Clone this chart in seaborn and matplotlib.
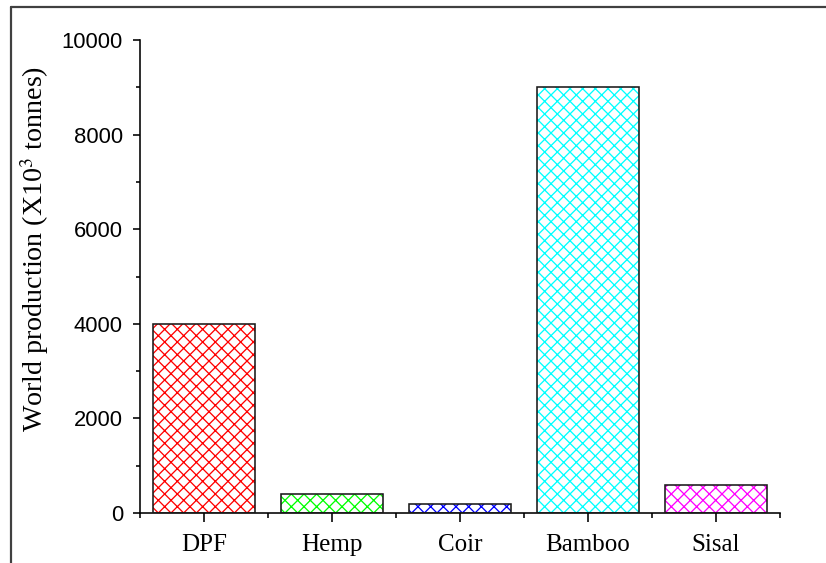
import numpy as np
import pandas as pd
import matplotlib
matplotlib.use("Agg")
import matplotlib.pyplot as plt
from matplotlib.patches import Rectangle
from matplotlib.lines import Line2D
from matplotlib.ticker import MultipleLocator, FixedLocator
import seaborn as sns

# Fibre world production data
fibres = ["DPF", "Hemp", "Coir", "Bamboo", "Sisal"]
production = [4000, 400, 200, 9000, 600]
colors = ["#FF0000", "#00FF00", "#0000FF", "#00FFFF", "#FF00FF"]
y_ticks = [0, 2000, 4000, 6000, 8000, 10000]

DPI = 76.5
W, H = 826, 563


def pt(px):
    """Convert pixel sizes to points at the figure's dpi."""
    return px * 72.0 / DPI


sns.set_style("ticks")
plt.rcParams["font.family"] = ["Liberation Serif", "DejaVu Serif"]
plt.rcParams["mathtext.fontset"] = "stix"
plt.rcParams["hatch.linewidth"] = pt(1.3)
plt.rcParams["text.color"] = "black"
plt.rcParams["axes.labelcolor"] = "black"
plt.rcParams["xtick.color"] = "black"
plt.rcParams["ytick.color"] = "black"

df = pd.DataFrame({"fibre": fibres, "production": production})

fig = plt.figure(figsize=(W / DPI, H / DPI), dpi=DPI)
ax = fig.add_axes([140 / W, 1 - 513 / H, 640 / W, 473 / H])

sns.barplot(data=df, x="fibre", y="production", hue="fibre",
            palette=colors, legend=False, width=0.8, ax=ax)

# colored cross-hatch inside each bar, then a dark outline on top
for patch, c in zip(list(ax.patches), colors):
    patch.set_facecolor("white")
    patch.set_edgecolor(c)
    patch.set_hatch("xx")
    patch.set_linewidth(0)
    ax.add_patch(Rectangle((patch.get_x(), patch.get_y()),
                           patch.get_width(), patch.get_height(),
                           fill=False, edgecolor="#1a1a1a",
                           linewidth=pt(1.6), zorder=3))

ax.set_xlim(-0.5, len(fibres) - 0.5)
ax.set_ylim(0, 10000)
ax.set_yticks(y_ticks)
ax.yaxis.set_minor_locator(MultipleLocator(1000))
ax.xaxis.set_minor_locator(FixedLocator(np.arange(-0.5, len(fibres), 1.0)))

sns.despine(ax=ax)
for s in ("left", "bottom"):
    ax.spines[s].set_linewidth(pt(1.6))
    ax.spines[s].set_color("black")

ax.tick_params(axis="both", which="major", direction="out", width=pt(1.6),
               color="black", labelcolor="black")
ax.tick_params(axis="y", which="major", length=pt(7), pad=pt(10),
               labelsize=pt(22))
ax.tick_params(axis="y", which="minor", length=pt(4), width=pt(1.6),
               color="black")
ax.tick_params(axis="x", which="major", length=pt(9), pad=pt(12),
               labelsize=pt(25))
ax.tick_params(axis="x", which="minor", length=pt(5), width=pt(1.6),
               color="black")

ax.set_yticklabels([str(v) for v in y_ticks],
                   family=["Liberation Sans", "DejaVu Sans"])

ax.set_xlabel("")
ax.set_ylabel(r"World production (X10$^{3}$ tonnes)", fontsize=pt(28),
              va="center", color="black")
ax.yaxis.set_label_coords((35 - 140) / 640, (513 - 249) / 473)

# page frame along the top and left edges
frame = dict(color="#404040", linewidth=pt(2.2), transform=fig.transFigure)
fig.add_artist(Line2D([10.5 / W, 10.5 / W], [0, 1 - 7 / H], **frame))
fig.add_artist(Line2D([10.5 / W, 1], [1 - 7 / H, 1 - 7 / H], **frame))

fig.savefig("out.png", dpi=DPI)
